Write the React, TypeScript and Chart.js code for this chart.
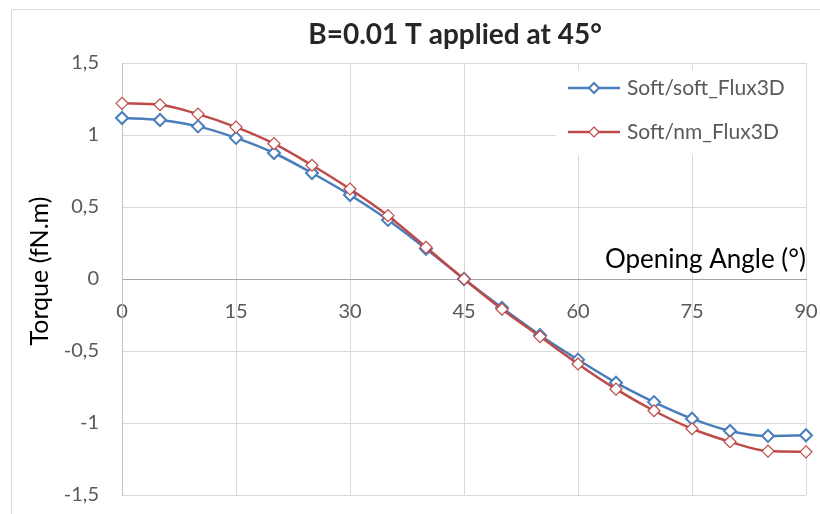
import React, { useEffect, useRef } from "react";
import { Chart, registerables } from "chart.js";

Chart.register(...registerables);

const angles = [0, 5, 10, 15, 20, 25, 30, 35, 40, 45, 50, 55, 60, 65, 70, 75, 80, 85, 90];
const softSoft = [1.118, 1.104, 1.06, 0.98, 0.875, 0.736, 0.583, 0.41, 0.21, 0, -0.2, -0.39, -0.56, -0.72, -0.855, -0.97, -1.055, -1.09, -1.085];
const softNm = [1.22, 1.21, 1.145, 1.055, 0.94, 0.79, 0.625, 0.44, 0.22, 0, -0.21, -0.4, -0.59, -0.765, -0.915, -1.04, -1.13, -1.195, -1.2];
const seriesNames = ["Soft/soft_Flux3D", "Soft/nm_Flux3D"];
const chartTitle = "B=0.01 T applied at 45°";
const xTitle = "Opening Angle (°)";
const yTitle = "Torque (fN.m)";

const BLUE = "#4a7ebb";
const RED = "#be4b48";
const FONT = "Lato, 'Open Sans', sans-serif";

const decor = {
  id: "decor",
  beforeDraw(chart: any) {
    const ctx = chart.ctx;
    ctx.save();
    ctx.fillStyle = "#fff";
    ctx.fillRect(0, 0, chart.width, chart.height);
    ctx.strokeStyle = "#d9d9d9";
    ctx.lineWidth = 1;
    ctx.beginPath();
    ctx.moveTo(11.5, chart.height);
    ctx.lineTo(11.5, 9.5);
    ctx.lineTo(chart.width, 9.5);
    ctx.stroke();
    ctx.restore();
  },
  afterDatasetsDraw(chart: any) {
    const ctx = chart.ctx;
    const area = chart.chartArea;
    ctx.save();
    // title
    ctx.fillStyle = "#262626";
    ctx.font = `bold 28px ${FONT}`;
    ctx.textAlign = "center";
    ctx.textBaseline = "alphabetic";
    ctx.fillText(chartTitle, 455, 44);
    // y title
    ctx.save();
    ctx.translate(48, 271);
    ctx.rotate(-Math.PI / 2);
    ctx.font = `25px ${FONT}`;
    ctx.fillStyle = "#000";
    ctx.textAlign = "center";
    ctx.fillText(yTitle, 0, 0);
    ctx.restore();
    // x title
    const y0 = chart.scales.y.getPixelForValue(0);
    ctx.font = `26px ${FONT}`;
    ctx.fillStyle = "#000";
    ctx.textAlign = "right";
    ctx.fillText(xTitle, area.right, y0 - 11);
    // legend
    ctx.fillStyle = "#fff";
    ctx.fillRect(556, 70, 250, 85);
    const items = [
      { name: seriesNames[0], color: BLUE, bw: 2, y: 88 },
      { name: seriesNames[1], color: RED, bw: 1.2, y: 132 },
    ];
    for (const it of items) {
      ctx.strokeStyle = it.color;
      ctx.lineWidth = 2.5;
      ctx.beginPath();
      ctx.moveTo(568, it.y);
      ctx.lineTo(620, it.y);
      ctx.stroke();
      ctx.beginPath();
      ctx.moveTo(594, it.y - 5);
      ctx.lineTo(599, it.y);
      ctx.lineTo(594, it.y + 5);
      ctx.lineTo(589, it.y);
      ctx.closePath();
      ctx.fillStyle = "#fff";
      ctx.fill();
      ctx.lineWidth = it.bw;
      ctx.stroke();
      ctx.fillStyle = "#595959";
      ctx.font = `21px ${FONT}`;
      ctx.textAlign = "left";
      ctx.textBaseline = "middle";
      ctx.fillText(it.name, 627, it.y);
    }
    ctx.restore();
  },
};

export default function App() {
  const ref = useRef<HTMLCanvasElement>(null);
  useEffect(() => {
    if (!ref.current) return;
    const chart = new Chart(ref.current, {
      type: "line",
      data: {
        datasets: [
          {
            label: seriesNames[0],
            data: angles.map((a, i) => ({ x: a, y: softSoft[i] })),
            borderColor: BLUE,
            borderWidth: 2.5,
            pointStyle: "rectRot",
            pointRadius: 6,
            pointBorderWidth: 2,
            pointBackgroundColor: "#fff",
            pointBorderColor: BLUE,
            cubicInterpolationMode: "monotone",
            order: 1,
          },
          {
            label: seriesNames[1],
            data: angles.map((a, i) => ({ x: a, y: softNm[i] })),
            borderColor: RED,
            borderWidth: 2.5,
            pointStyle: "rectRot",
            pointRadius: 6,
            pointBorderWidth: 1.2,
            pointBackgroundColor: "#fff",
            pointBorderColor: RED,
            cubicInterpolationMode: "monotone",
            order: 0,
          },
        ],
      },
      options: {
        animation: false,
        responsive: false,
        clip: false,
        layout: { padding: { left: 0, top: 63, right: 14, bottom: 19 } },
        plugins: { legend: { display: false }, tooltip: { enabled: false }, title: { display: false } },
        scales: {
          x: {
            type: "linear",
            position: { y: 0 },
            min: 0,
            max: 90,
            ticks: {
              stepSize: 15,
              color: "#595959",
              font: { family: FONT, size: 20 },
              padding: 21,
            },
            grid: { color: "#d9d9d9", lineWidth: 1, drawTicks: false },
            border: { color: "#a6a6a6", width: 1 },
            afterFit: (s: any) => {
              s.height = 0;
              s.paddingLeft = 0;
              s.paddingRight = 0;
              s.paddingTop = 0;
              s.paddingBottom = 0;
            },
          },
          y: {
            type: "linear",
            min: -1.5,
            max: 1.5,
            ticks: {
              stepSize: 0.5,
              color: "#595959",
              font: { family: FONT, size: 20 },
              padding: 23,
              callback: (v: any) => String(Math.round(Number(v) * 10) / 10).replace(".", ","),
            },
            grid: { color: "#d9d9d9", lineWidth: 1, drawTicks: false },
            border: { color: "#bfbfbf", width: 1 },
            afterFit: (s: any) => {
              s.width = 122;
              s.paddingTop = 0;
              s.paddingBottom = 0;
            },
          },
        },
      },
      plugins: [decor],
    } as any);
    return () => chart.destroy();
  }, []);
  return (
    <canvas
      ref={ref}
      width={820}
      height={514}
      style={{ position: "fixed", left: 0, top: 0, width: 820, height: 514 }}
    />
  );
}
